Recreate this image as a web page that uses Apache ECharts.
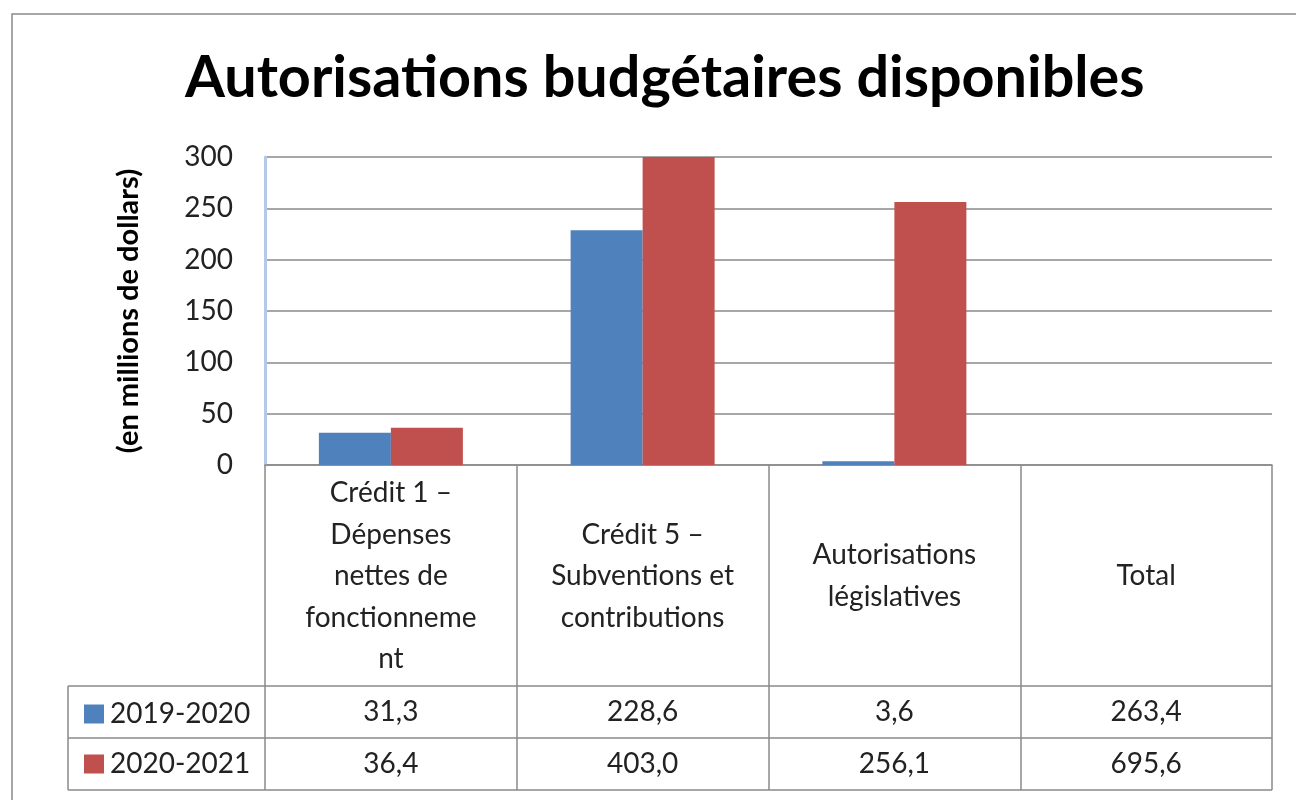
<!DOCTYPE html>
<html><head><meta charset="utf-8">
<script src="https://cdn.jsdelivr.net/npm/echarts@6/dist/echarts.min.js"></script>
<style>html,body{margin:0;padding:0;background:#fff}#c{width:1296px;height:800px}</style>
</head><body><div id="c"></div>
<script>
const categories = ['Crédit 1 –\nDépenses\nnettes de\nfonctionneme\nnt', 'Crédit 5 –\nSubventions et\ncontributions', 'Autorisations\nlégislatives', 'Total'];
const seriesNames = ['2019-2020', '2020-2021'];
const values2019 = [31.3, 228.6, 3.6, 263.4];
const values2020 = [36.4, 403.0, 256.1, 695.6];
const plotted = [true, true, true, false];
const yTicks = [0, 50, 100, 150, 200, 250, 300];

const fmt = v => v.toFixed(1).replace('.', ',');
const FONT = 'Lato';
const FS = 28;
const TXT = '#222';
const LINE = '#8a8a8a';

const chart = echarts.init(document.getElementById('c'));
const barData = arr => arr.map((v, i) => plotted[i] ? v : '-');

const gridL = 265, gridR = 24, gridT = 157, gridB = 335;

chart.setOption({
  animation: false,
  title: {
    text: 'Autorisations budgétaires disponibles',
    left: 180, top: 44,
    textStyle: { fontFamily: FONT, fontWeight: 'bold', fontSize: 57.5, color: '#000' }
  },
  legend: {
    data: seriesNames,
    orient: 'vertical', left: 79, top: 695,
    icon: 'rect', itemWidth: 20, itemHeight: 19, itemGap: 22,
    textStyle: { fontFamily: FONT, fontSize: FS, color: TXT, padding: [0, 0, 0, 1] },
    selectedMode: false
  },
  grid: { left: gridL, right: gridR, top: gridT, bottom: gridB },
  xAxis: [
    {
      type: 'category', data: categories,
      axisLine: { show: true, lineStyle: { color: LINE, width: 1.5 } },
      axisTick: { show: true, alignWithLabel: false, length: 325, interval: 0, lineStyle: { color: LINE, width: 1.5 } },
      axisLabel: { interval: 0, margin: 111, verticalAlign: 'middle', lineHeight: 41.5,
        fontFamily: FONT, fontSize: FS, color: TXT }
    },
    {
      type: 'category', data: categories, position: 'bottom',
      axisLine: { show: false }, axisTick: { show: false },
      axisLabel: { interval: 0, margin: 247, verticalAlign: 'middle',
        fontFamily: FONT, fontSize: FS, color: TXT,
        formatter: (v, i) => fmt(values2019[i]) }
    },
    {
      type: 'category', data: categories, position: 'bottom',
      axisLine: { show: false }, axisTick: { show: false },
      axisLabel: { interval: 0, margin: 299, verticalAlign: 'middle',
        fontFamily: FONT, fontSize: FS, color: TXT,
        formatter: (v, i) => fmt(values2020[i]) }
    }
  ],
  yAxis: {
    type: 'value', min: 0, max: 300, interval: 50,
    name: '(en millions de dollars)', nameLocation: 'middle', nameGap: 122, nameRotate: 90,
    nameTextStyle: { fontFamily: FONT, fontWeight: 'bold', fontSize: 29, color: '#000', padding: [0, 0, 0, 0] },
    axisLine: { show: true, lineStyle: { color: '#b3c9e6', width: 3 } },
    axisTick: { show: false },
    axisLabel: { margin: 32, fontFamily: FONT, fontSize: FS, color: TXT,
      formatter: v => yTicks.includes(v) ? String(v) : '' },
    splitLine: { show: true, lineStyle: { color: LINE, width: 1.5 } }
  },
  series: [
    { name: seriesNames[0], type: 'bar', data: barData(values2019), barWidth: 72, barGap: '0%',
      itemStyle: { color: '#4f81bd' }, clip: true },
    { name: seriesNames[1], type: 'bar', data: barData(values2020), barWidth: 72, barGap: '0%',
      itemStyle: { color: '#c0504d' }, clip: true }
  ],
  graphic: [
    { type: 'rect', shape: { x: 12, y: 14, width: 1320, height: 820 }, style: { fill: 'none', stroke: LINE, lineWidth: 1.5 } },
    { type: 'line', shape: { x1: 68, y1: 686, x2: 1272, y2: 686 }, style: { stroke: LINE, lineWidth: 1.5 } },
    { type: 'line', shape: { x1: 68, y1: 738, x2: 1272, y2: 738 }, style: { stroke: LINE, lineWidth: 1.5 } },
    { type: 'line', shape: { x1: 68, y1: 790, x2: 1272, y2: 790 }, style: { stroke: LINE, lineWidth: 1.5 } },
    { type: 'line', shape: { x1: 68, y1: 686, x2: 68, y2: 790 }, style: { stroke: LINE, lineWidth: 1.5 } }
  ]
});
</script></body></html>
